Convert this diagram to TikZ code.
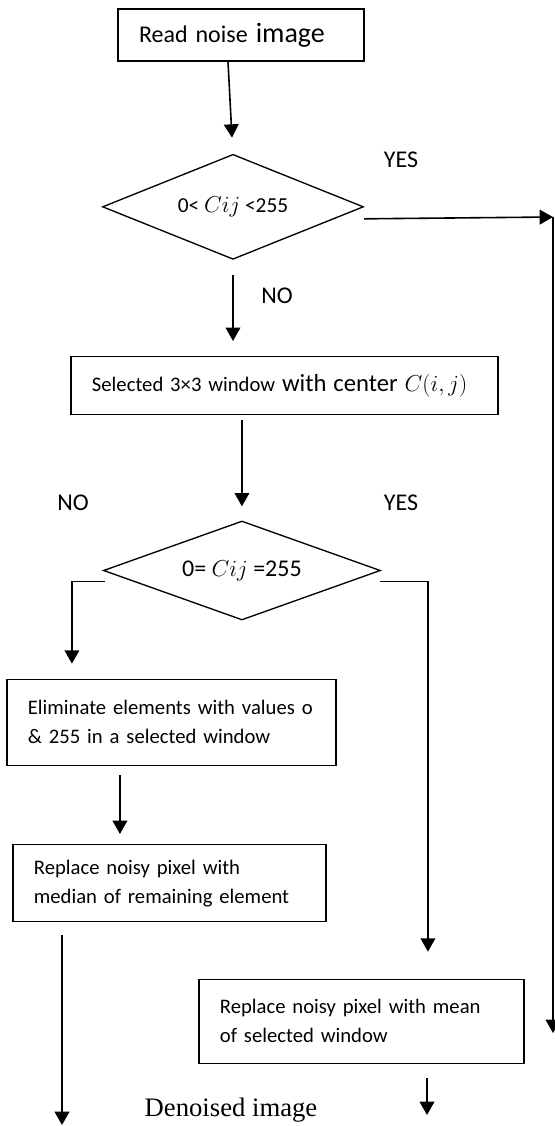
\documentclass[tikz,border=0pt]{standalone}
\usepackage{fontspec}
\setmainfont{Carlito}
\newfontfamily\serifface{Liberation Serif}
\usetikzlibrary{positioning,shapes.geometric,arrows.meta}

\begin{document}
\begin{tikzpicture}[x=0.75pt, y=-0.75pt, auto,
    block/.style={rectangle, draw, line width=1pt, align=left, inner xsep=15.75pt, inner ysep=0pt, font=\fontsize{15.5}{21.75}\selectfont},
    decision/.style={diamond, draw, line width=1pt, inner sep=0pt, aspect=2.5},
    lbl/.style={font=\fontsize{18}{21}\selectfont},
    arrow/.style={-{Triangle[length=10pt, width=11pt]}, line width=1.2pt}
]
\useasboundingbox (0,0) rectangle (555,1126);

% Nodes
\node[block, text width=153pt, minimum height=39pt, font=\fontsize{18}{22}\selectfont] (read) at (241,35) {Read noise {\fontsize{21}{24}\selectfont image}};
\node[decision, minimum width=195.75pt, minimum height=78.75pt, below=69pt of read, xshift=-6pt, font=\fontsize{16}{19}\selectfont] (cond1) {0< $Cij$ <255};
\node[block, text width=288.75pt, minimum height=43.5pt, below=72pt of cond1, xshift=38.6pt] (sel) {Selected 3×3 window {\fontsize{18.5}{22}\selectfont with center} {\fontsize{19}{22}\selectfont $C(i,j)$}};
\node[decision, minimum width=207.75pt, minimum height=74.25pt, below=78.75pt of sel, xshift=-31.9pt, font=\fontsize{18}{21}\selectfont] (cond2) {0= $Cij$ =255};
\node[block, text width=215.25pt, minimum height=64.5pt, below=43.5pt of cond2, xshift=-52.9pt] (elim) {Eliminate elements with values o\\\& 255 in a selected window};
\node[block, text width=203.25pt, minimum height=57.75pt, below=58.5pt of elim, xshift=-1.5pt] (median) {Replace noisy pixel with\\median of remaining element};
\node[block, text width=212.25pt, minimum height=63pt, below=268.5pt of cond2, xshift=89.6pt] (mean) {Replace noisy pixel with mean\\of selected window};

% Labels
\node[lbl] (yes1) at (401,160) {YES};
\node[lbl] (no1) at (277,296) {NO};
\node[lbl] (no2) at (73,503) {NO};
\node[lbl] (yes2) at (401,503) {YES};
\node[font=\serifface\fontsize{20}{24}\selectfont] (done) at (231,1110) {Denoised image};

% Free ends
\coordinate (yturn) at (553,217);
\coordinate (yend) at (553,1033);
\coordinate (outL) at (62,1125);
\coordinate (outR) at (427,1115);

% Arrows
\draw[arrow] ([xshift=-9.75pt]read.south) -- ([xshift=-0.75pt, yshift=12pt]cond1.north);
\draw[arrow] ([yshift=-9pt]cond1.east) -- (yturn);
\draw[arrow] (yturn) -- (yend);
\draw[arrow, shorten <=11.25pt, shorten >=11.25pt] (cond1.south) -- (cond1.south |- sel.north);
\draw[arrow, shorten <=3.75pt, shorten >=10.5pt] (sel.south -| cond2.north) -- (cond2.north);
\draw[arrow, shorten >=11.25pt] ([shift={(1.5pt,-8.25pt)}]cond2.west) -| ([xshift=-74.6pt]elim.north);
\draw[arrow, shorten >=20.25pt] ([shift={(-0.75pt,-8.25pt)}]cond2.east) -| ([xshift=49.9pt]mean.north);
\draw[arrow] ([xshift=-38.6pt, yshift=-6.75pt]elim.south) -- ([xshift=-37.1pt, yshift=7.5pt]median.north);
\draw[arrow, shorten <=9.75pt] (median.south -| outL) -- (outL);
\draw[arrow, shorten <=10.5pt] (mean.south -| outR) -- (outR);

\end{tikzpicture}
\end{document}
